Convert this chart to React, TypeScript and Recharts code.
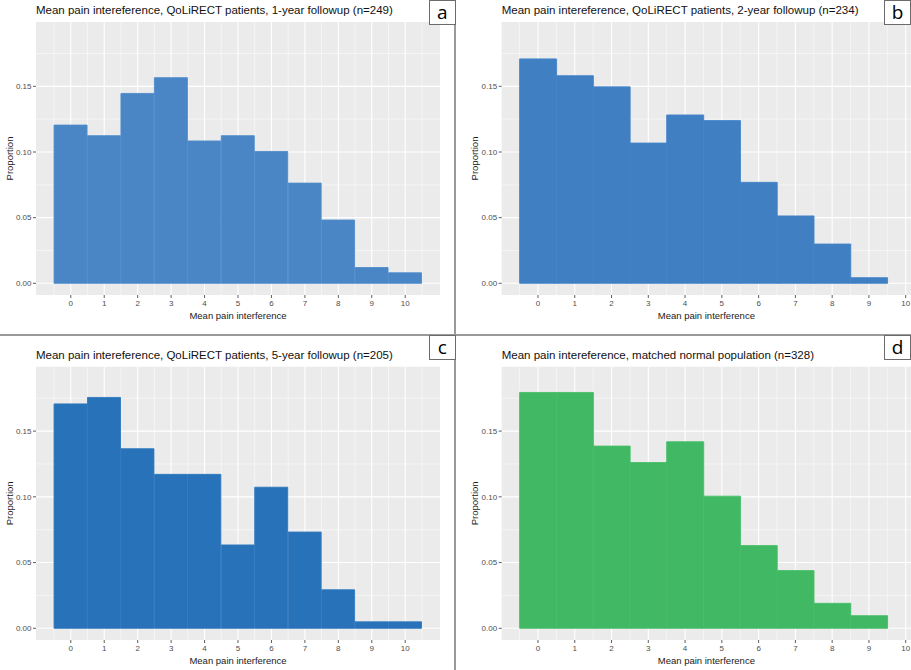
import React from 'react';
import { ComposedChart, Bar, XAxis, YAxis, CartesianGrid } from 'recharts';

const xBins = [0, 1, 2, 3, 4, 5, 6, 7, 8, 9, 10];
const propA = [0.1205, 0.1124, 0.1446, 0.1566, 0.1084, 0.1124, 0.1004, 0.0763, 0.0482, 0.012, 0.008];
const propB = [0.1709, 0.1581, 0.1496, 0.1068, 0.1282, 0.1239, 0.0769, 0.0513, 0.0299, 0.0043];
const propC = [0.1707, 0.1756, 0.1366, 0.1171, 0.1171, 0.0634, 0.1073, 0.0732, 0.0293, 0.0049, 0.0049];
const propD = [0.1794, 0.1794, 0.1386, 0.1261, 0.1419, 0.1005, 0.0629, 0.0439, 0.019, 0.0096];

const xTicks = [0, 1, 2, 3, 4, 5, 6, 7, 8, 9, 10];
const xMinor = [-0.5, 0.5, 1.5, 2.5, 3.5, 4.5, 5.5, 6.5, 7.5, 8.5, 9.5, 10.5];
const yTicks = [0, 0.05, 0.1, 0.15];
const yMinor = [0.025, 0.075, 0.125, 0.175];
const yDomain: [number, number] = [-0.0089, 0.199];

const titles = [
  'Mean pain intereference, QoLiRECT patients, 1-year followup (n=249)',
  'Mean pain intereference, QoLiRECT patients, 2-year followup (n=234)',
  'Mean pain intereference, QoLiRECT patients, 5-year followup (n=205)',
  'Mean pain intereference, matched normal population (n=328)',
];
const letters = ['a', 'b', 'c', 'd'];
const xTitle = 'Mean pain interference';
const yTitle = 'Proportion';

const FONT = '"Liberation Sans", Arial, Helvetica, sans-serif';

function applyScale(axis: any, v: number): number | undefined {
  const s = axis?.scale;
  if (!s) return undefined;
  if (typeof s === 'function') return s(v);
  if (typeof s.map === 'function') return s.map(v);
  if (typeof s.scale === 'function') return s.scale(v);
  if (typeof s.apply === 'function') return s.apply(v);
  return undefined;
}

type PanelProps = {
  idx: number;
  values: number[];
  fill: string;
  stroke: string;
  left: number;
  top: number;
  width: number;
  plotLeft: number;
  plotRight: number;
  plotTop: number;
  plotBottom: number;
  xDomain: [number, number];
  yTitleX: number;
};

const H = 335;

function Panel(p: PanelProps) {
  const data = p.values.map((v, i) => ({ x: xBins[i], p: v }));
  const yAxisW = 30;
  const xAxisH = 14;
  const margin = {
    top: p.plotTop,
    left: p.plotLeft - yAxisW,
    right: p.width - p.plotRight,
    bottom: H - p.plotBottom - xAxisH,
  };
  const minorX = xMinor.filter((v) => v > p.xDomain[0] && v < p.xDomain[1]);
  const genH = (vals: number[]) => (props: any) =>
    vals.map((v) => applyScale(props?.yAxis, v)).filter((c) => typeof c === 'number' && isFinite(c as number)) as number[];
  const genV = (vals: number[]) => (props: any) =>
    vals.map((v) => applyScale(props?.xAxis, v)).filter((c) => typeof c === 'number' && isFinite(c as number)) as number[];
  const plotCx = (p.plotLeft + p.plotRight) / 2;
  const plotCy = (p.plotTop + p.plotBottom) / 2;
  return (
    <div style={{ position: 'absolute', left: p.left, top: p.top, width: p.width, height: H }}>
      <ComposedChart
        width={p.width}
        height={H}
        data={data}
        margin={margin}
        barCategoryGap={0}
        barGap={0}
      >
        <CartesianGrid
          fill="#EBEBEB"
          stroke="#FFFFFF"
          strokeWidth={0.5}
          horizontalCoordinatesGenerator={genH(yMinor)}
          verticalCoordinatesGenerator={genV(minorX)}
        />
        <CartesianGrid
          fill="none"
          stroke="#FFFFFF"
          strokeWidth={1.1}
          horizontalCoordinatesGenerator={genH(yTicks)}
          verticalCoordinatesGenerator={genV(xTicks)}
        />
        <XAxis
          type="number"
          dataKey="x"
          domain={p.xDomain}
          allowDataOverflow
          ticks={xTicks}
          interval={0}
          height={xAxisH}
          axisLine={false}
          tickLine={{ stroke: '#333333', strokeWidth: 0.8 }}
          tickSize={3}
          tickMargin={2}
          tick={{ fontSize: 8, fill: '#4D4D4D', fontFamily: FONT }}
        />
        <YAxis
          type="number"
          domain={yDomain}
          allowDataOverflow
          ticks={yTicks}
          interval={0}
          width={yAxisW}
          axisLine={false}
          tickLine={{ stroke: '#333333', strokeWidth: 0.8 }}
          tickSize={3}
          tickMargin={1.5}
          tickFormatter={(v: number) => v.toFixed(2)}
          tick={{ fontSize: 8, fill: '#4D4D4D', fontFamily: FONT }}
        />
        <Bar dataKey="p" fill={p.fill} stroke={p.stroke} strokeWidth={0.9} isAnimationActive={false} />
      </ComposedChart>
      <svg
        width={p.width}
        height={H}
        style={{ position: 'absolute', left: 0, top: 0, pointerEvents: 'none' }}
      >
        <text x={p.plotLeft} y={p.plotTop - 8} fontSize={11.5} fontFamily={FONT} fill="#111111">
          {titles[p.idx]}
        </text>
        <text
          x={plotCx}
          y={p.plotBottom + 23.5}
          fontSize={9.5}
          fontFamily={FONT}
          fill="#1A1A1A"
          textAnchor="middle"
        >
          {xTitle}
        </text>
        <text
          x={p.yTitleX}
          y={plotCy}
          fontSize={9.5}
          fontFamily={FONT}
          fill="#1A1A1A"
          textAnchor="middle"
          dominantBaseline="central"
          transform={`rotate(-90 ${p.yTitleX} ${plotCy})`}
        >
          {yTitle}
        </text>
      </svg>
    </div>
  );
}

function LetterBox({ x, y, w, letter }: { x: number; y: number; w: number; letter: string }) {
  return (
    <div
      style={{
        position: 'absolute',
        left: x,
        top: y,
        width: w,
        height: 25,
        boxSizing: 'border-box',
        border: '1px solid #6b6b6b',
        background: '#FFFFFF',
        fontFamily: '"Open Sans", "Noto Sans", sans-serif',
        fontSize: 19,
        lineHeight: '22px',
        textAlign: 'center',
        color: '#000',
      }}
    >
      {letter}
    </div>
  );
}

export default function App() {
  return (
    <div
      style={{
        position: 'absolute',
        left: 0,
        top: 0,
        width: 911,
        height: 670,
        background: '#FFFFFF',
        overflow: 'hidden',
      }}
    >
      <Panel
        idx={0}
        values={propA}
        fill="#4A86C6"
        stroke="#4F8CCC"
        left={0}
        top={0}
        width={455}
        plotLeft={36}
        plotRight={440}
        plotTop={22}
        plotBottom={295}
        xDomain={[-1.04, 11.04]}
        yTitleX={9.5}
      />
      <Panel
        idx={1}
        values={propB}
        fill="#3F7FC2"
        stroke="#4585C8"
        left={455}
        top={0}
        width={456}
        plotLeft={46.7}
        plotRight={456}
        plotTop={22}
        plotBottom={295}
        xDomain={[-0.987, 10.144]}
        yTitleX={19.3}
      />
      <Panel
        idx={2}
        values={propC}
        fill="#2872B9"
        stroke="#2E78BF"
        left={0}
        top={335}
        width={455}
        plotLeft={36}
        plotRight={440}
        plotTop={31.7}
        plotBottom={305}
        xDomain={[-1.04, 11.04]}
        yTitleX={9.3}
      />
      <Panel
        idx={3}
        values={propD}
        fill="#41B863"
        stroke="#47BE69"
        left={455}
        top={335}
        width={456}
        plotLeft={46.7}
        plotRight={456}
        plotTop={31.7}
        plotBottom={305}
        xDomain={[-0.987, 10.144]}
        yTitleX={19.3}
      />
      <div style={{ position: 'absolute', left: 454, top: 0, width: 1.5, height: 670, background: '#9A9A9A' }} />
      <div style={{ position: 'absolute', left: 0, top: 334, width: 911, height: 1.5, background: '#9A9A9A' }} />
      <LetterBox x={429} y={0} w={26.5} letter={letters[0]} />
      <LetterBox x={884} y={0} w={27} letter={letters[1]} />
      <LetterBox x={429} y={335} w={26.5} letter={letters[2]} />
      <LetterBox x={884} y={335} w={27} letter={letters[3]} />
    </div>
  );
}
